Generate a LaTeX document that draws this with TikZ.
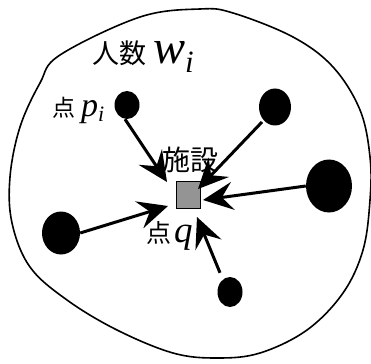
\documentclass[tikz,border=0pt]{standalone}
\usepackage{fontspec}
\setmainfont{Liberation Serif}
\newfontfamily\cjk{Noto Sans CJK JP}
\newfontfamily\tms{Liberation Serif}
\usetikzlibrary{shapes.geometric,arrows.meta}
\begin{document}
\begin{tikzpicture}[x=1pt,y=-1pt,
  dot/.style={ellipse,fill=black,inner sep=0pt},
  conn/.style={line width=3pt,-{Stealth[length=30pt,width=28pt,inset=11pt]}},
  lab/.style={inner sep=0pt,anchor=base west}]
\useasboundingbox (0,0) rectangle (371,363);
\draw[line width=1.6pt] plot[smooth cycle,tension=0.6] coordinates{
 (60,55) (140,17) (200,9) (233,13) (293,37) (333,67) (360,110) (370,157)
 (370,200) (363,250) (343,293) (307,330) (260,353) (217,358) (173,353)
 (117,330) (67,300) (30,267) (12,223) (10,177) (20,127) (40,83)};
\node[dot,minimum width=25pt,minimum height=28pt] (d1) at (127,105) {};
\node[dot,minimum width=32pt,minimum height=37pt] (d2) at (275,107) {};
\node[dot,minimum width=46pt,minimum height=53pt] (d3) at (329,186) {};
\node[dot,minimum width=38pt,minimum height=43pt] (d4) at (61,233) {};
\node[dot,minimum width=25pt,minimum height=30pt] (d5) at (230,292) {};
\node[draw,line width=1pt,fill=black!42,minimum width=24pt,minimum height=27pt,inner sep=0pt] (sq) at (188.5,195) {};
\coordinate (t1) at (167,182);
\coordinate (t2) at (198,189);
\coordinate (t3) at (203,200);
\coordinate (t4) at (168,206);
\coordinate (t5) at (197,217);
\draw[conn] (d1.south) ++(-2,0) -- (t1);
\draw[conn] (262,122) -- (t2);
\draw[conn] (d3.west) -- (t3);
\draw[conn] (d4.east) -- (t4);
\draw[conn] (d5.north) ++(-10,-4) -- (t5);
\node[lab] (w) at (92,64) {\fontsize{27}{27}\selectfont\cjk 人数\hspace{7pt}\tms\fontsize{48}{48}\selectfont\itshape w\raisebox{-9pt}{\fontsize{31}{31}\selectfont i}};
\node[lab] (p) at (52,117) {\fontsize{23}{23}\selectfont\cjk 点\hspace{6pt}\tms\fontsize{34}{34}\selectfont\itshape p\raisebox{-5pt}{\fontsize{22}{22}\selectfont i}};
\node[lab] (f) at (162,171) {\fontsize{28}{28}\selectfont\cjk 施設};
\node[lab] (q) at (146,242) {\fontsize{25}{25}\selectfont\cjk 点\hspace{3pt}\tms\fontsize{37}{37}\selectfont\itshape q};
\end{tikzpicture}
\end{document}
